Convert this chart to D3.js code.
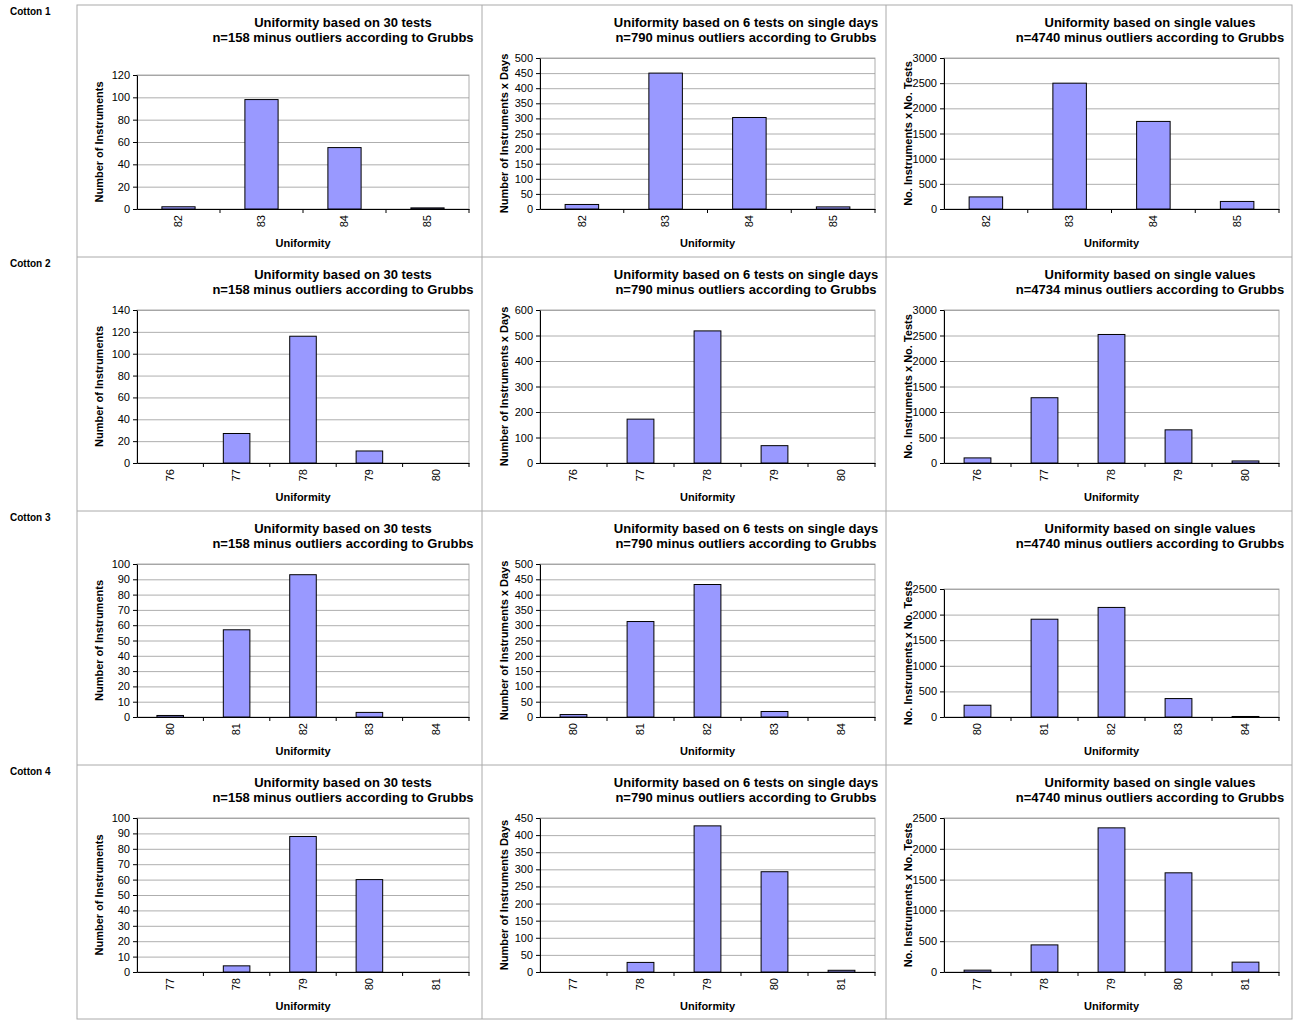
<!DOCTYPE html>
<html>
<head>
<script src="https://d3js.org/d3.v7.min.js"></script>
<style>
  body { margin: 0; background: #fff; font-family: "Liberation Sans", Arial, sans-serif; }
  .grid line { stroke: #999; stroke-width: 0.8; }
  .grid .domain { stroke: none; }
  .axis text { font-size: 11px; fill: #000; }
  .axis .domain, .axis line { stroke: #000; }
</style>
</head>
<body>
<svg id="chart" width="1299" height="1021"></svg>
<script>
// ---- data ----
const cottons = ["Cotton 1", "Cotton 2", "Cotton 3", "Cotton 4"];
const categories = [
  ["82", "83", "84", "85"],
  ["76", "77", "78", "79", "80"],
  ["80", "81", "82", "83", "84"],
  ["77", "78", "79", "80", "81"]
];
const titles1 = ["Uniformity based on 30 tests", "Uniformity based on 6 tests on single days", "Uniformity based on single values"];
const nValues = [
  ["158", "790", "4740"],
  ["158", "790", "4734"],
  ["158", "790", "4740"],
  ["158", "790", "4740"]
];
const yLabels = [
  ["Number of Instruments", "Number of Instruments x Days", "No. Instruments x No. Tests"],
  ["Number of Instruments", "Number of Instruments x Days", "No. Instruments x No. Tests"],
  ["Number of Instruments", "Number of Instruments x Days", "No. Instruments x No. Tests"],
  ["Number of Instruments", "Number of Instruments Days", "No. Instruments x No. Tests"]
];
const yMax = [
  [120, 500, 3000],
  [140, 600, 3000],
  [100, 500, 2500],
  [100, 450, 2500]
];
const yStep = [
  [20, 50, 500],
  [20, 100, 500],
  [10, 50, 500],
  [10, 50, 500]
];
const counts30 = [[2, 98, 55, 1], [0, 27, 116, 11, 0], [1, 57, 93, 3, 0], [0, 4, 88, 60, 0]];
const countsDays = [[15, 450, 303, 7], [0, 172, 518, 68, 0], [8, 312, 433, 18, 0], [0, 28, 427, 293, 5]];
const countsSingle = [[240, 2500, 1740, 150], [100, 1280, 2520, 650, 40], [230, 1910, 2140, 360, 10], [30, 440, 2340, 1610, 160]];

const svg = d3.select("#chart");
const colX = [77, 482, 886, 1292];
const rowY = [5, 257, 511, 765, 1019];
const series = [counts30, countsDays, countsSingle];

// cell borders
svg.append("rect").attr("x", colX[0]).attr("y", rowY[0])
  .attr("width", colX[3] - colX[0]).attr("height", rowY[4] - rowY[0])
  .attr("fill", "none").attr("stroke", "#aaa");
colX.slice(1, 3).forEach(x => svg.append("line").attr("x1", x).attr("x2", x)
  .attr("y1", rowY[0]).attr("y2", rowY[4]).attr("stroke", "#aaa"));
rowY.slice(1, 4).forEach(y => svg.append("line").attr("x1", colX[0]).attr("x2", colX[3])
  .attr("y1", y).attr("y2", y).attr("stroke", "#aaa"));

cottons.forEach((c, r) => {
  svg.append("text").attr("x", 10).attr("y", rowY[r] + 10)
    .style("font-size", "10px").style("font-weight", "bold").text(c);

  for (let k = 0; k < 3; k++) {
    const cx = colX[k];
    const left = cx + (k === 0 ? 60 : 58);
    const right = cx + (k === 0 ? 392 : 393);
    let top = rowY[r] + 53;
    if (k === 2 && r === 2) top = rowY[r] + 78;
    if (k === 0 && r === 0) top = rowY[r] + 70;
    const bottom = rowY[r] + 204 + (r === 3 ? 1 : 0) + (r >= 1 ? 2 : 0);

    const x = d3.scaleBand().domain(categories[r]).range([left, right])
      .paddingInner(0.6).paddingOuter(0.3);
    const y = d3.scaleLinear().domain([0, yMax[r][k]]).range([bottom, top]);
    const ticks = d3.range(0, yMax[r][k] + 1, yStep[r][k]);

    const g = svg.append("g");
    // plot area border
    g.append("rect").attr("x", left).attr("y", top)
      .attr("width", right - left).attr("height", bottom - top)
      .attr("fill", "none").attr("stroke", "#999").attr("stroke-width", 0.8);

    g.append("g").attr("class", "grid")
      .attr("transform", `translate(${left},0)`)
      .call(d3.axisLeft(y).tickValues(ticks).tickSize(-(right - left)).tickFormat(""));

    g.selectAll("rect.bar").data(series[k][r]).join("rect")
      .attr("class", "bar")
      .attr("x", (d, i) => x(categories[r][i]))
      .attr("width", x.bandwidth())
      .attr("y", d => y(d))
      .attr("height", d => bottom - y(d))
      .attr("fill", "#9999ff").attr("stroke", "#000").attr("stroke-width", 1);

    g.append("g").attr("class", "axis")
      .attr("transform", `translate(${left},0)`)
      .call(d3.axisLeft(y).tickValues(ticks).tickSize(4).tickSizeOuter(0).tickFormat(d3.format("d")));

    const xa = g.append("g").attr("class", "axis")
      .attr("transform", `translate(0,${bottom})`)
      .call(d3.axisBottom(x).tickSize(0).tickSizeOuter(0));
    xa.selectAll(".tick text")
      .attr("transform", "rotate(-90)")
      .attr("text-anchor", "end")
      .attr("x", -6).attr("y", 0).attr("dy", "0.35em");
    // category separators
    xa.selectAll(".sep").data(categories[r].slice(0)).join("line")
      .attr("x1", d => x(d) + x.bandwidth() + x.step() * 0.3)
      .attr("x2", d => x(d) + x.bandwidth() + x.step() * 0.3)
      .attr("y1", 0).attr("y2", 4).attr("stroke", "#000");

    g.append("text").attr("x", (left + right) / 2).attr("y", bottom + 38)
      .attr("text-anchor", "middle").style("font-size", "11px").style("font-weight", "bold")
      .text("Uniformity");

    g.append("text")
      .attr("transform", `translate(${cx + 26},${(top + bottom) / 2}) rotate(-90)`)
      .attr("text-anchor", "middle").style("font-size", "11px").style("font-weight", "bold")
      .text(yLabels[r][k]);

    const tx = cx + (k === 0 ? 266 : 264);
    g.append("text").attr("x", tx).attr("y", rowY[r] + 22)
      .attr("text-anchor", "middle").style("font-size", "13px").style("font-weight", "bold")
      .text(titles1[k]);
    g.append("text").attr("x", tx).attr("y", rowY[r] + 37)
      .attr("text-anchor", "middle").style("font-size", "13px").style("font-weight", "bold")
      .text(`n=${nValues[r][k]} minus outliers according to Grubbs`);
  }
});
</script>
</body>
</html>
